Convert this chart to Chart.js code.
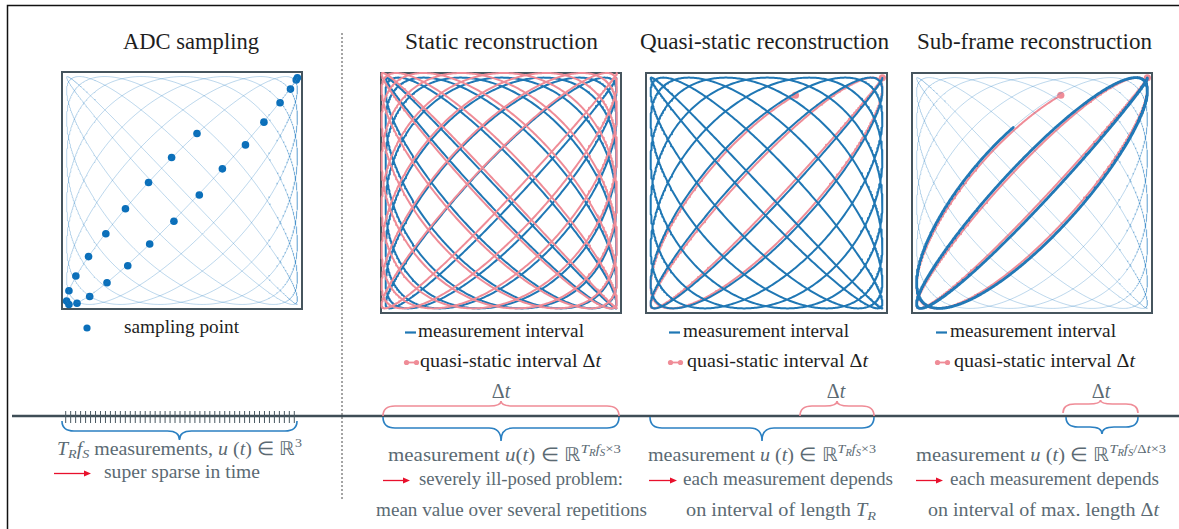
<!DOCTYPE html>
<html>
<head>
<meta charset="utf-8">
<script src="https://cdn.jsdelivr.net/npm/chart.js@4.4.1/dist/chart.umd.min.js"></script>
<style>
  html, body { margin: 0; padding: 0; background: #ffffff; }
  #page { position: relative; width: 1179px; height: 529px; overflow: hidden; background: #fff; }
  #overlay { position: absolute; left: 0; top: 0; }
  .panel { position: absolute; }
  .t { position: absolute; white-space: nowrap; line-height: 1; font-family: 'Liberation Serif', 'Times New Roman', serif; }
  .t i { font-style: italic; }
  .sub, .sup { position: relative; line-height: 0; }
</style>
</head>
<body>
<div id="page">
  <svg id="overlay" width="1179" height="529" xmlns="http://www.w3.org/2000/svg"></svg>
</div>
<script>
// ---- trajectory and measurement data ----
const driveFreq = [16, 17];            // x / y drive-field frequencies per 2π
const drivePhaseY = 0.09;              // y-channel phase offset (rad)
const repetitionInterval = [0, Math.PI];   // one full repetition T_R
const quasiStaticInterval = [0, 0.703];    // Δt window
const subFrameInterval = [0, 0.677];       // sub-frame measurement interval
const adcTickCount = 47;

// ADC sampling points along the trajectory (normalised field coordinates)
const adcSampleX = [1.00, 0.99, 0.94, 0.85, 0.71, 0.55, 0.35, 0.15, -0.07, -0.28, -0.47, -0.65, -0.80, -0.91, -0.98,
                    -1.00, -0.98, -0.92, -0.81, -0.66, -0.49, -0.29, -0.09, 0.13];
const adcSampleY = [0.99, 0.97, 0.89, 0.77, 0.60, 0.40, 0.19, -0.04, -0.27, -0.47, -0.66, -0.81, -0.93, -0.99, -1.00,
                    -0.97, -0.88, -0.75, -0.58, -0.38, -0.16, 0.07, 0.29, 0.50];

const panelTitles = ['ADC sampling', 'Static reconstruction', 'Quasi-static reconstruction', 'Sub-frame reconstruction'];

// ---- colours ----
const BLUE = '#1f77b4';
const DOT_BLUE = '#0a6fba';
const LIGHT_BLUE = 'rgba(48,132,196,0.32)';
const PINK = '#ef8c97';
const BRACE_BLUE = '#2b80c2';
const GREY_TXT = '#5b6a73';
const DARK_TXT = '#1e1e1e';
const FRAME = '#46555e';

const page = document.getElementById('page');
const svg = document.getElementById('overlay');
const NS = 'http://www.w3.org/2000/svg';

function el(tag, attrs) {
  const e = document.createElementNS(NS, tag);
  for (const k in attrs) e.setAttribute(k, attrs[k]);
  svg.appendChild(e);
  return e;
}

// text placed by its baseline; optional target width
function txt(x, baseline, html, opts) {
  opts = opts || {};
  const fs = opts.size || 19.2;
  const d = document.createElement('div');
  d.className = 't';
  d.style.fontSize = fs + 'px';
  d.style.color = opts.color || DARK_TXT;
  d.style.top = (baseline - 0.8375 * fs) + 'px';
  d.style.left = '0px';
  d.innerHTML = html;
  page.appendChild(d);
  const w = d.getBoundingClientRect().width;
  const target = opts.len || w;
  const s = target / w;
  const left = opts.anchor === 'middle' ? x - target / 2 : x;
  d.style.left = left + 'px';
  d.style.transformOrigin = '0 0';
  d.style.transform = `scaleX(${s})`;
  return d;
}
const I = s => `<i>${s}</i>`;
const SUB = (s, size, dy) => `<span class="sub" style="font-size:${size}px;top:${dy}px">${s}</span>`;
const SUP = (s, size, dy) => `<span class="sup" style="font-size:${size}px;top:${-dy}px">${s}</span>`;

// trajectory sampler
function trajectory(t0, t1, phaseY, amp, n) {
  const pts = [];
  for (let i = 0; i <= n; i++) {
    const t = t0 + (t1 - t0) * i / n;
    pts.push({ x: amp * Math.cos(driveFreq[0] * t), y: amp * Math.cos(driveFreq[1] * t + phaseY) });
  }
  return pts;
}
function endpoints(pts) { return [pts[0], pts[pts.length - 1]]; }

// ---- framing lines ----
el('path', { d: 'M7.5,529 V5.5 H1179', stroke: '#111', 'stroke-width': 1.5, fill: 'none' });
el('line', { x1: 342, y1: 33, x2: 342, y2: 500, stroke: '#4a4a4a', 'stroke-width': 1, 'stroke-dasharray': '2,2' });

// time axis with the ADC sample ticks
el('line', { x1: 12, y1: 416, x2: 1179, y2: 416, stroke: '#3e4d56', 'stroke-width': 2.4 });
for (let i = 0; i < adcTickCount; i++) {
  const x = 65.7 + i * (294.3 - 65.7) / (adcTickCount - 1);
  el('line', { x1: x, y1: 411, x2: x, y2: 423, stroke: '#4a5962', 'stroke-width': 1 });
}

function brace(x1, x2, yEnd, yFlat, yTip, color) {
  const xm = (x1 + x2) / 2;
  const r = Math.min(12, (x2 - x1) / 5);
  const d = `M${x1},${yEnd} Q${x1},${yFlat} ${x1 + r},${yFlat} L${xm - r},${yFlat} Q${xm},${yFlat} ${xm},${yTip} ` +
            `Q${xm},${yFlat} ${xm + r},${yFlat} L${x2 - r},${yFlat} Q${x2},${yFlat} ${x2},${yEnd}`;
  el('path', { d: d, stroke: color, 'stroke-width': 1.6, fill: 'none' });
}
brace(62, 297, 421, 431, 440, BRACE_BLUE);
brace(383, 619, 416, 406, 401, PINK);
brace(383, 619, 417, 428, 441, BRACE_BLUE);
brace(800, 874, 416, 406, 401, PINK);
brace(650, 874, 417, 428, 441, BRACE_BLUE);
brace(1063, 1138, 413, 404, 400, PINK);
brace(1066, 1138, 417, 427, 434, BRACE_BLUE);

function arrow(x1, x2, y) {
  el('line', { x1: x1, y1: y, x2: x2 - 5, y2: y, stroke: '#e8102c', 'stroke-width': 1.3 });
  el('path', { d: `M${x2},${y} L${x2 - 7},${y - 3} L${x2 - 7},${y + 3} Z`, fill: '#e8102c' });
}

// ---- titles ----
txt(190.5, 49, panelTitles[0], { size: 23.2, anchor: 'middle', len: 136 });
txt(501.5, 49.5, panelTitles[1], { size: 23.2, anchor: 'middle', len: 193 });
txt(764.5, 49.5, panelTitles[2], { size: 23.2, anchor: 'middle', len: 249 });
txt(1034.5, 49.5, panelTitles[3], { size: 23.2, anchor: 'middle', len: 235 });

// ---- legends ----
el('circle', { cx: 87, cy: 328, r: 3.6, fill: DOT_BLUE });
txt(124, 333, 'sampling point', { len: 115 });

const legendX = [[405, 418, 420], [669, 683, 687], [936, 950, 954]];
legendX.forEach(([mx, tx1, tx2]) => {
  el('line', { x1: mx, y1: 332.5, x2: mx + 11, y2: 332.5, stroke: BLUE, 'stroke-width': 2.2 });
  txt(tx1, 337.5, 'measurement interval', { len: 166 });
  el('line', { x1: mx + 1, y1: 362.5, x2: mx + 12, y2: 362.5, stroke: PINK, 'stroke-width': 1.8 });
  el('circle', { cx: mx + 1.5, cy: 362.5, r: 2.6, fill: PINK });
  el('circle', { cx: mx + 11.5, cy: 362.5, r: 2.6, fill: PINK });
  txt(tx2, 367, `quasi-static interval Δ${I('t')}`, { len: 181 });
});

// Δt labels above the time axis
[501, 836, 1101].forEach(x => txt(x, 398, `Δ${I('t')}`, { anchor: 'middle', color: GREY_TXT, size: 20 }));

// ---- bottom annotations ----
txt(57, 455, `${I('T')}${SUB(I('R'), 13.5, 3.5)}${I('f')}${SUB(I('S'), 13.5, 3.5)} measurements, ${I('u')} (${I('t')}) ∈ ℝ${SUP('3', 13.5, 8)}`,
    { color: GREY_TXT, len: 245 });
arrow(54, 91, 473.5);
txt(104, 478.5, 'super sparse in time', { color: GREY_TXT, len: 156 });

function measureLine(x, spaced, extra, len) {
  const ut = spaced ? `${I('u')} (${I('t')})` : `${I('u')}(${I('t')})`;
  const sup = `<span class="sup" style="top:-8px;font-size:13.5px">${I('T')}<span class="sub" style="font-size:10px;top:3px">${I('R')}</span>` +
              `${I('f')}<span class="sub" style="font-size:10px;top:3px">${I('S')}</span>${extra}×3</span>`;
  txt(x, 461, `measurement ${ut} ∈ ℝ${sup}`, { color: GREY_TXT, len: len });
}
measureLine(388, false, '', 233);
measureLine(648, true, '', 228);
measureLine(916, true, `/Δ${I('t')}`, 250);

arrow(383, 410, 480.5);
txt(419, 485, 'severely ill-posed problem:', { color: GREY_TXT, len: 204 });
txt(511.5, 516.5, 'mean value over several repetitions', { color: GREY_TXT, anchor: 'middle', len: 271 });

arrow(649, 677, 480.5);
txt(683, 485, 'each measurement depends', { color: GREY_TXT, len: 210 });
txt(781, 516.5, `on interval of length ${I('T')}${SUB(I('R'), 13.5, 3.5)}`, { color: GREY_TXT, anchor: 'middle', len: 190 });

arrow(916, 943, 480.5);
txt(950, 485, 'each measurement depends', { color: GREY_TXT, len: 209 });
txt(1043.5, 516.5, `on interval of max. length Δ${I('t')}`, { color: GREY_TXT, anchor: 'middle', len: 231 });

// ---- Lissajous panels (Chart.js) ----
const RANGE = 1.04;
const PAD = 10;
const framePlugin = {
  id: 'frame',
  beforeDatasetsDraw(chart) {
    const a = chart.chartArea, ctx = chart.ctx;
    ctx.save();
    ctx.strokeStyle = FRAME;
    ctx.lineWidth = 2;
    ctx.strokeRect(a.left, a.top, a.right - a.left, a.bottom - a.top);
    ctx.restore();
  }
};

function panel(box, datasets) {
  const [left, top, w, h] = box;
  const wrap = document.createElement('div');
  wrap.className = 'panel';
  wrap.style.left = (left - PAD) + 'px';
  wrap.style.top = (top - PAD) + 'px';
  const cv = document.createElement('canvas');
  cv.width = w + 2 * PAD; cv.height = h + 2 * PAD;
  cv.style.width = cv.width + 'px'; cv.style.height = cv.height + 'px';
  wrap.appendChild(cv);
  page.appendChild(wrap);
  datasets.forEach(d => {
    d.clip = false;
    if (d.showLine === undefined) d.showLine = true;
    if (d.pointRadius === undefined) d.pointRadius = 0;
    d.fill = false;
  });
  return new Chart(cv, {
    type: 'scatter',
    data: { datasets },
    options: {
      responsive: false, animation: false, devicePixelRatio: 1,
      layout: { padding: PAD },
      plugins: { legend: { display: false }, tooltip: { enabled: false } },
      elements: { line: { tension: 0, borderCapStyle: 'round', borderJoinStyle: 'round' } },
      scales: {
        x: { type: 'linear', display: false, min: -RANGE, max: RANGE },
        y: { type: 'linear', display: false, min: -RANGE, max: RANGE }
      }
    },
    plugins: [framePlugin]
  });
}

const full = trajectory(repetitionInterval[0], repetitionInterval[1], drivePhaseY, 1, 4000);
const PINK_PHASE = drivePhaseY - 0.035;

// ADC sampling
panel([62, 72, 240, 237], [
  { data: full, borderColor: LIGHT_BLUE, borderWidth: 1 },
  { data: adcSampleX.map((x, i) => ({ x, y: adcSampleY[i] })), showLine: false, pointRadius: 3.8,
    pointBackgroundColor: DOT_BLUE, pointBorderWidth: 0 }
]);

// static reconstruction
const staticPink = trajectory(repetitionInterval[0], repetitionInterval[1], PINK_PHASE, 1, 4000)
  .map(p => ({ x: p.x * 1.02 - 0.015, y: p.y * 1.02 + 0.02 }));
panel([381, 73, 240, 240], [
  { data: staticPink, borderColor: PINK, borderWidth: 2 },
  { data: full, borderColor: BLUE, borderWidth: 2 }
]);

// quasi-static reconstruction
const qsPink = trajectory(quasiStaticInterval[0], quasiStaticInterval[1], PINK_PHASE, 1, 1200);
panel([646, 73, 241, 240], [
  { data: full, borderColor: BLUE, borderWidth: 2 },
  { data: qsPink, borderColor: PINK, borderWidth: 2 },
  { data: endpoints(qsPink), showLine: false, pointRadius: 3.6, pointBackgroundColor: PINK, pointBorderWidth: 0 }
]);

// sub-frame reconstruction
const sfBlue = trajectory(subFrameInterval[0], subFrameInterval[1], drivePhaseY, 1, 1200);
const sfPink = trajectory(quasiStaticInterval[0], quasiStaticInterval[1], PINK_PHASE, 1, 1200);
panel([912, 73, 240, 240], [
  { data: full, borderColor: LIGHT_BLUE, borderWidth: 1 },
  { data: sfBlue, borderColor: BLUE, borderWidth: 2.8 },
  { data: sfPink, borderColor: PINK, borderWidth: 2 },
  { data: endpoints(sfPink), showLine: false, pointRadius: 3.6, pointBackgroundColor: PINK, pointBorderWidth: 0 }
]);
</script>
</body>
</html>
